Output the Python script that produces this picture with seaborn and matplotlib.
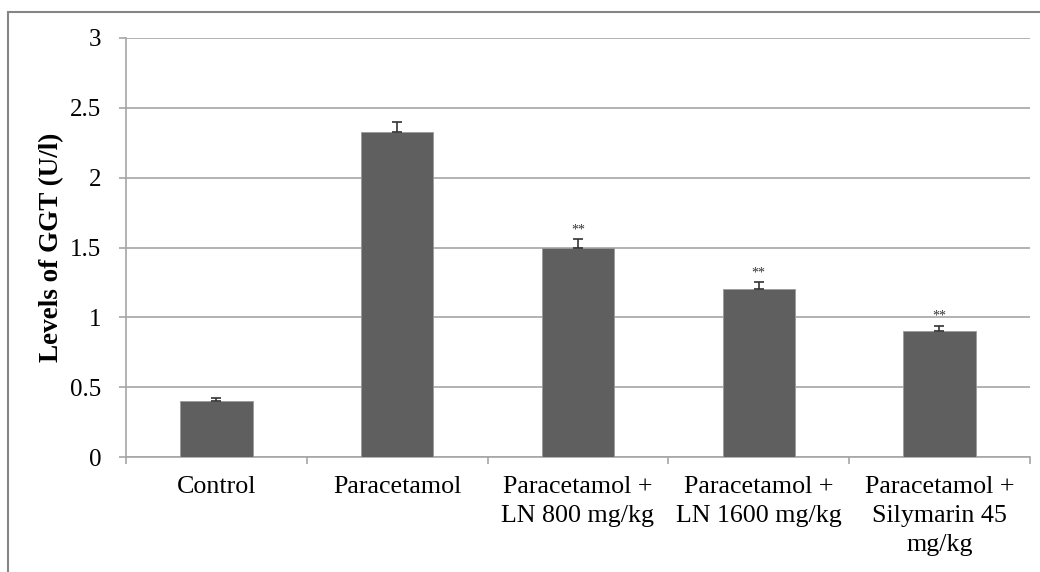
import matplotlib
matplotlib.use("Agg")
import matplotlib.pyplot as plt
import matplotlib.patches as patches
import numpy as np
import pandas as pd
import seaborn as sns

groups = ["Control", "Paracetamol", "Paracetamol +\nLN 800 mg/kg",
          "Paracetamol +\nLN 1600 mg/kg", "Paracetamol +\nSilymarin 45\nmg/kg"]
ggt_levels = [0.40, 2.33, 1.50, 1.20, 0.90]
ggt_errors = [0.02, 0.07, 0.06, 0.05, 0.04]
significance = ["", "", "**", "**", "**"]
y_ticks = [0, 0.5, 1, 1.5, 2, 2.5, 3]

df = pd.DataFrame({"Group": groups, "GGT": ggt_levels})

sns.set_theme(style="white")
plt.rcParams['font.family'] = ['Liberation Serif', 'DejaVu Serif']

fig = plt.figure(figsize=(10.4, 5.72), dpi=100)
ax = fig.add_axes([0.1212, 0.201, 0.869, 0.7326])

sns.barplot(data=df, x="Group", y="GGT", color="#5f5f5f", width=0.4,
            edgecolor="#9a9a9a", linewidth=0.6, saturation=1, ax=ax, zorder=3)

x = np.arange(len(groups))
ax.errorbar(x, ggt_levels, yerr=[np.zeros(len(x)), ggt_errors], fmt="none",
            ecolor="#333333", elinewidth=1.2, capsize=3.5, capthick=1.2, zorder=4)

for xi, v, e, s in zip(x, ggt_levels, ggt_errors, significance):
    if s:
        ax.annotate(s, (xi, v + e), xytext=(0, 2), textcoords="offset points",
                    ha="center", va="bottom", fontsize=10, color="#333333")

ax.set_ylim(0, 3)
ax.set_xlim(-0.5, len(groups) - 0.5)
ax.set_yticks(y_ticks)
ax.set_yticklabels(["0", "0.5", "1", "1.5", "2", "2.5", "3"])
ax.yaxis.grid(True, color="#a6a6a6", linewidth=1.2, zorder=0)
ax.set_axisbelow(True)

for side in ["top", "right"]:
    ax.spines[side].set_visible(False)
for side in ["left", "bottom"]:
    ax.spines[side].set_color("#a6a6a6")
    ax.spines[side].set_linewidth(1.2)

ax.tick_params(axis="y", which="major", length=5, width=1.2, color="#a6a6a6",
               direction="out", labelsize=18, pad=13, left=True)
ax.tick_params(axis="x", which="major", length=0, labelsize=18.75, pad=14)
ax.set_xticks(np.arange(-0.5, len(groups), 1.0), minor=True)
ax.tick_params(axis="x", which="minor", length=5, width=1.2, color="#a6a6a6",
               direction="out", bottom=True)
for lbl in ax.get_xticklabels():
    lbl.set_multialignment("center")
    lbl.set_linespacing(1.4)
    lbl.set_color("black")
for lbl in ax.get_yticklabels():
    lbl.set_color("black")

ax.set_xlabel("")
ax.set_ylabel("Levels of GGT (U/l)", fontsize=19.5, fontweight="bold", labelpad=4,
              color="black")

# outer frame of the chart area
fig.patches.append(patches.Rectangle((8 / 1040, -0.05), 1.1, 1 - 12 / 572 + 0.05,
                                     transform=fig.transFigure, fill=False,
                                     edgecolor="#858585", linewidth=1.5))

fig.savefig("out.png", dpi=100)
